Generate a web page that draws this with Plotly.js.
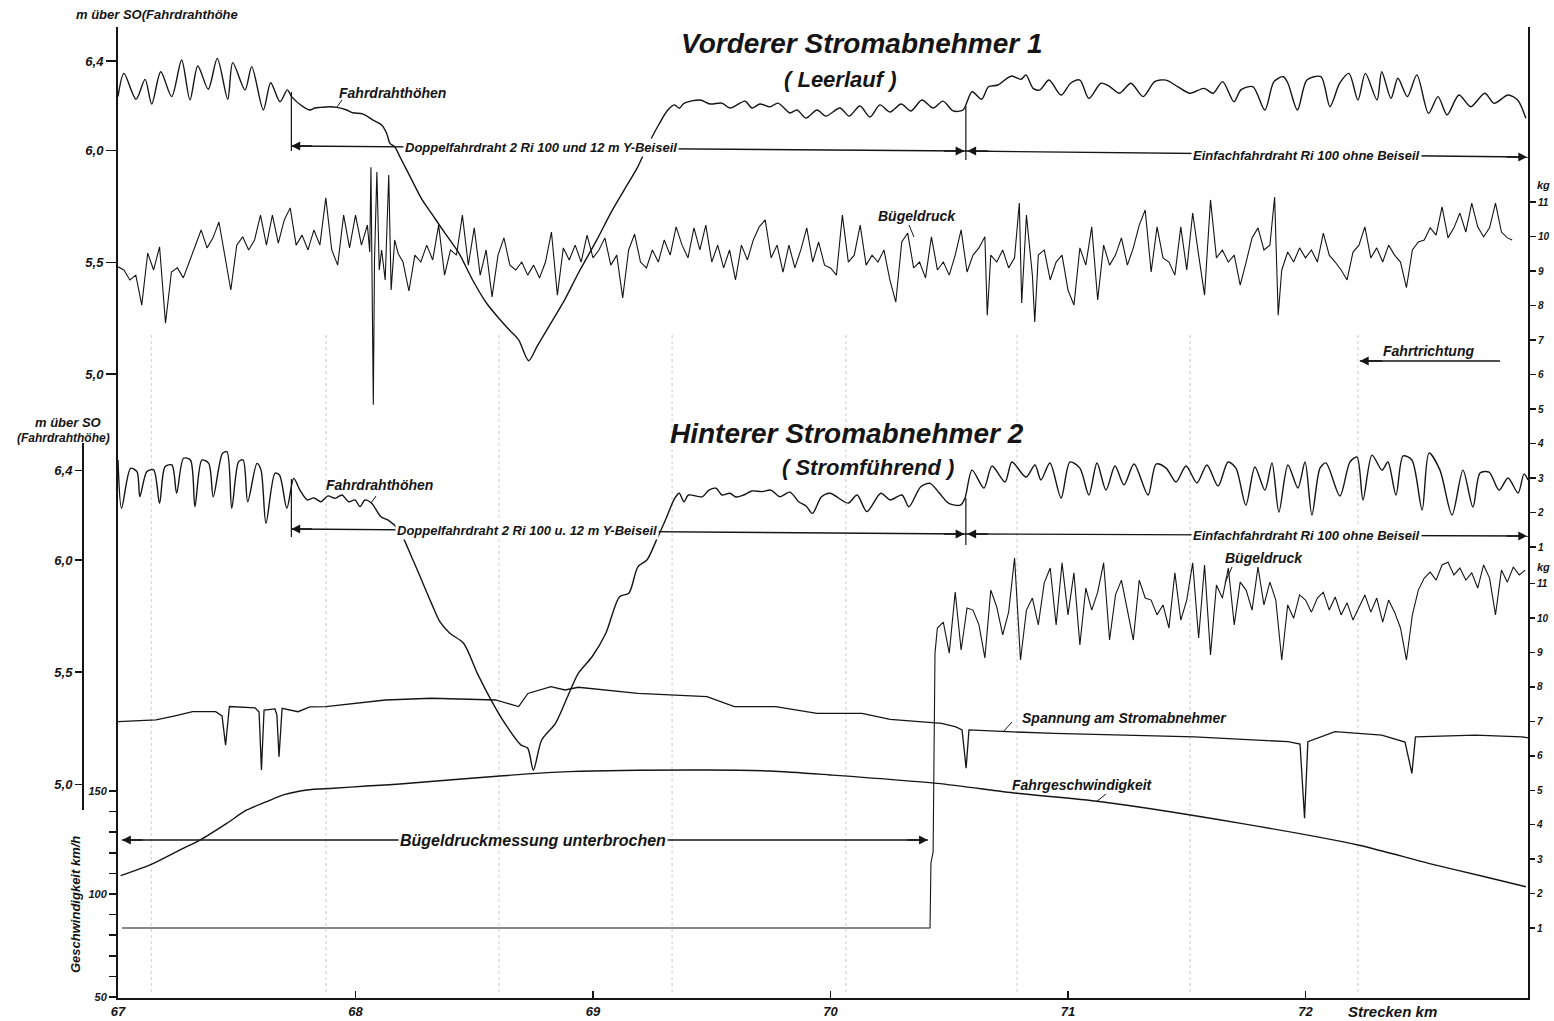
<!DOCTYPE html>
<html><head><meta charset="utf-8">
<script src="https://cdn.plot.ly/plotly-3.0.1.min.js"></script>
<style>html,body{margin:0;padding:0;background:#fff}#chart{width:1554px;height:1021px}</style>
</head><body><div id="chart"></div>
<script>
// ---------------- DATA (read from the recording) ----------------
// x = Strecken-km, values in the unit of each scale
const kmTicks = [67, 68, 69, 70, 71, 72];
const kmTickText = ['67', '68', '69', '70', '71', '72'];
const heightTicks = [5.0, 5.5, 6.0, 6.4];
const heightTickText = ['5,0', '5,5', '6,0', '6,4'];
const speedTicks = [50, 60, 70, 80, 90, 100, 110, 120, 130, 140, 150];
const speedTickText = ['50', '', '', '', '', '100', '', '', '', '', '150'];
const kgTicks = [1, 2, 3, 4, 5, 6, 7, 8, 9, 10, 11];
const kgTickText = ['1', '2', '3', '4', '5', '6', '7', '8', '9', '10', '11'];

// section boundaries (km)
const doppelStart = 67.73, einfachStart = 70.57, trackEnd = 72.937;
const bdOffStart = 67.017, bdOffEnd = 70.41;
const fahrtTip = 72.229, fahrtTail = 72.819;

// Vorderer Stromabnehmer 1 – Fahrdrahthöhe [m über SO]
const fh1 = [[67.000,6.241],[67.025,6.345],[67.076,6.229],[67.114,6.318],[67.142,6.208],[67.180,6.352],[67.226,6.241],[67.268,6.405],[67.303,6.226],[67.336,6.378],
[67.380,6.274],[67.418,6.412],[67.462,6.229],[67.483,6.393],[67.535,6.271],[67.563,6.375],[67.612,6.181],[67.643,6.303],[67.682,6.218],[67.713,6.271],
[67.731,6.241],[67.779,6.196],[67.808,6.181],[67.829,6.190],[67.851,6.193],[67.893,6.196],[67.921,6.193],[67.963,6.181],[67.989,6.169],[68.032,6.163],
[68.074,6.136],[68.110,6.114],[68.131,6.077],[68.145,6.032],[68.165,6.017],[68.187,5.972],[68.223,5.898],[68.281,5.779],[68.320,5.719],[68.358,5.659],
[68.397,5.600],[68.436,5.540],[68.493,5.421],[68.552,5.317],[68.610,5.242],[68.648,5.197],[68.687,5.153],[68.729,5.060],[68.764,5.123],[68.822,5.227],
[68.880,5.331],[68.938,5.451],[69.016,5.600],[69.074,5.719],[69.131,5.823],[69.189,5.928],[69.228,6.017],[69.276,6.114],[69.315,6.181],[69.344,6.204],
[69.363,6.189],[69.383,6.211],[69.451,6.226],[69.493,6.208],[69.543,6.212],[69.577,6.190],[69.640,6.221],[69.669,6.190],[69.703,6.208],[69.745,6.195],
[69.779,6.212],[69.829,6.168],[69.859,6.181],[69.897,6.145],[69.943,6.181],[69.981,6.154],[70.040,6.190],[70.078,6.154],[70.124,6.199],[70.166,6.150],
[70.208,6.204],[70.251,6.172],[70.297,6.208],[70.339,6.177],[70.385,6.226],[70.432,6.190],[70.474,6.221],[70.516,6.177],[70.558,6.181],[70.596,6.263],
[70.636,6.229],[70.665,6.285],[70.705,6.293],[70.743,6.323],[70.764,6.333],[70.802,6.318],[70.823,6.338],[70.853,6.278],[70.882,6.271],[70.920,6.315],
[70.971,6.248],[71.011,6.301],[71.050,6.315],[71.088,6.233],[71.139,6.301],[71.177,6.285],[71.217,6.256],[71.265,6.301],[71.316,6.241],[71.365,6.308],
[71.413,6.315],[71.463,6.285],[71.514,6.256],[71.573,6.278],[71.611,6.256],[71.651,6.308],[71.699,6.218],[71.728,6.271],[71.779,6.285],[71.829,6.181],
[71.867,6.308],[71.907,6.330],[71.926,6.301],[71.966,6.181],[72.006,6.315],[72.065,6.330],[72.103,6.196],[72.144,6.301],[72.183,6.345],[72.221,6.226],
[72.252,6.345],[72.301,6.226],[72.321,6.352],[72.360,6.233],[72.389,6.323],[72.429,6.241],[72.469,6.338],[72.518,6.166],[72.558,6.241],[72.596,6.159],
[72.646,6.248],[72.696,6.196],[72.755,6.256],[72.794,6.211],[72.853,6.248],[72.893,6.226],[72.928,6.144]];

// Vorderer Stromabnehmer 1 – Bügeldruck [kg]
const bd1 = [[67.000,9.12],[67.025,9.03],[67.050,8.74],[67.075,8.88],[67.100,8.01],[67.125,9.52],[67.150,9.03],[67.175,9.70],[67.200,7.49],[67.225,8.97],
[67.250,9.09],[67.275,8.80],[67.300,9.26],[67.325,9.75],[67.350,10.19],[67.375,9.67],[67.400,9.96],[67.425,10.42],[67.450,9.46],[67.475,8.45],
[67.500,9.75],[67.525,9.99],[67.550,9.61],[67.575,9.90],[67.600,10.62],[67.625,9.75],[67.650,10.62],[67.675,9.81],[67.700,10.48],[67.725,10.83],
[67.750,9.75],[67.775,10.04],[67.800,9.61],[67.825,10.19],[67.850,9.75],[67.875,11.12],[67.900,9.61],[67.925,9.17],[67.950,10.62],[67.975,9.67],
[68.000,10.62],[68.025,9.75],[68.050,10.33],[68.060,9.55],[68.065,12.01],[68.070,8.16],[68.075,5.12],[68.080,9.32],[68.090,11.87],[68.100,9.03],
[68.110,9.61],[68.125,8.74],[68.140,11.78],[68.150,8.45],[68.165,9.90],[68.180,9.50],[68.200,9.26],[68.225,8.42],[68.250,9.46],[68.275,9.26],
[68.300,9.75],[68.325,9.32],[68.350,10.33],[68.375,8.88],[68.400,9.61],[68.425,9.46],[68.450,10.62],[68.475,9.17],[68.500,10.25],[68.525,8.88],
[68.550,9.61],[68.575,8.25],[68.600,9.46],[68.625,9.96],[68.650,9.17],[68.675,9.03],[68.700,9.26],[68.725,8.88],[68.750,9.17],[68.775,8.80],
[68.800,9.26],[68.825,10.13],[68.850,8.30],[68.875,9.67],[68.900,9.32],[68.925,9.75],[68.950,9.26],[68.975,10.04],[69.000,9.38],[69.025,9.61],
[69.050,9.96],[69.075,9.17],[69.100,9.46],[69.125,8.22],[69.150,9.61],[69.175,10.07],[69.200,9.26],[69.225,9.09],[69.250,9.61],[69.275,9.26],
[69.300,9.90],[69.325,9.46],[69.350,10.28],[69.375,9.75],[69.400,9.38],[69.425,10.25],[69.450,9.61],[69.475,10.33],[69.500,9.26],[69.525,9.75],
[69.550,9.09],[69.575,9.61],[69.600,8.74],[69.625,9.75],[69.650,9.32],[69.675,9.90],[69.700,10.28],[69.725,10.48],[69.750,9.38],[69.775,9.75],
[69.800,8.97],[69.825,9.75],[69.850,9.09],[69.875,9.61],[69.900,10.25],[69.925,9.26],[69.950,9.84],[69.975,9.17],[70.000,9.09],[70.025,8.88],
[70.050,10.62],[70.075,9.26],[70.100,9.46],[70.125,10.33],[70.150,9.17],[70.175,9.46],[70.200,9.26],[70.225,9.61],[70.250,8.74],[70.275,8.10],
[70.300,9.84],[70.325,10.10],[70.350,9.09],[70.375,9.26],[70.400,8.80],[70.425,9.99],[70.450,9.03],[70.475,9.26],[70.500,8.88],[70.525,9.46],
[70.550,10.19],[70.575,8.97],[70.600,9.46],[70.625,9.67],[70.650,9.99],[70.660,7.72],[70.675,9.46],[70.700,9.26],[70.725,9.61],[70.750,9.09],
[70.775,9.38],[70.795,10.97],[70.805,8.07],[70.825,10.62],[70.850,8.88],[70.860,7.52],[70.875,9.46],[70.900,9.61],[70.925,8.74],[70.950,9.26],
[70.975,9.46],[71.000,8.45],[71.025,8.01],[71.050,9.67],[71.075,9.17],[71.100,10.28],[71.125,8.16],[71.150,9.75],[71.175,9.17],[71.200,9.46],
[71.225,9.96],[71.250,9.17],[71.275,9.67],[71.300,10.33],[71.325,10.77],[71.350,8.97],[71.375,10.28],[71.400,9.38],[71.425,9.26],[71.450,8.88],
[71.475,10.28],[71.500,9.03],[71.525,10.68],[71.550,9.46],[71.575,8.30],[71.600,11.06],[71.625,9.38],[71.650,9.61],[71.675,9.26],[71.700,9.46],
[71.725,8.59],[71.750,9.26],[71.775,9.96],[71.800,10.25],[71.825,9.61],[71.850,9.75],[71.870,11.14],[71.885,7.72],[71.900,9.03],[71.925,9.55],
[71.950,9.26],[71.975,9.67],[72.000,9.38],[72.025,9.61],[72.050,9.26],[72.075,10.10],[72.100,9.46],[72.125,9.26],[72.150,9.03],[72.175,8.74],
[72.200,9.55],[72.225,9.75],[72.250,10.28],[72.275,9.38],[72.300,9.67],[72.325,9.26],[72.350,9.75],[72.375,9.46],[72.400,9.26],[72.425,8.52],
[72.450,9.61],[72.475,9.84],[72.500,9.90],[72.525,10.25],[72.550,10.04],[72.575,10.86],[72.600,9.96],[72.625,10.25],[72.650,10.68],[72.675,10.13],
[72.700,10.97],[72.725,10.28],[72.750,9.99],[72.775,10.25],[72.800,10.97],[72.825,10.13],[72.850,9.96],[72.870,9.90]];

// Hinterer Stromabnehmer 2 – Fahrdrahthöhe [m über SO]
const fh2 = [[67.000,6.446],[67.015,6.231],[67.053,6.409],[67.080,6.394],[67.092,6.282],[67.121,6.394],[67.150,6.402],[67.175,6.253],[67.198,6.416],[67.227,6.424],
[67.247,6.298],[67.276,6.454],[67.305,6.446],[67.324,6.238],[67.353,6.446],[67.382,6.431],[67.401,6.282],[67.440,6.476],[67.459,6.483],[67.479,6.231],
[67.508,6.439],[67.527,6.446],[67.546,6.260],[67.585,6.431],[67.602,6.402],[67.623,6.164],[67.661,6.387],[67.680,6.379],[67.711,6.231],[67.740,6.364],
[67.766,6.312],[67.797,6.268],[67.825,6.277],[67.855,6.260],[67.884,6.286],[67.914,6.275],[67.943,6.290],[67.971,6.260],[67.998,6.268],[68.019,6.238],
[68.040,6.268],[68.068,6.253],[68.107,6.193],[68.136,6.179],[68.183,6.134],[68.242,6.000],[68.320,5.807],[68.356,5.724],[68.397,5.674],[68.455,5.629],
[68.513,5.495],[68.571,5.376],[68.629,5.272],[68.696,5.176],[68.725,5.161],[68.749,5.064],[68.784,5.198],[68.842,5.272],[68.899,5.406],[68.938,5.495],
[68.996,5.569],[69.054,5.674],[69.112,5.837],[69.151,5.852],[69.189,5.970],[69.227,6.000],[69.267,6.089],[69.305,6.179],[69.344,6.275],[69.363,6.298],
[69.383,6.260],[69.402,6.290],[69.460,6.282],[69.488,6.312],[69.518,6.320],[69.543,6.290],[69.576,6.298],[69.602,6.281],[69.634,6.290],[69.669,6.308],
[69.712,6.305],[69.749,6.312],[69.787,6.282],[69.829,6.303],[69.866,6.260],[69.897,6.241],[69.924,6.208],[69.962,6.282],[69.998,6.298],[70.074,6.254],
[70.112,6.290],[70.153,6.216],[70.212,6.298],[70.251,6.268],[70.301,6.290],[70.330,6.238],[70.380,6.327],[70.419,6.342],[70.459,6.298],[70.498,6.253],
[70.547,6.245],[70.566,6.275],[70.596,6.401],[70.646,6.321],[70.680,6.419],[70.735,6.348],[70.764,6.437],[70.823,6.370],[70.861,6.424],[70.886,6.357],
[70.924,6.433],[70.971,6.277],[71.008,6.437],[71.050,6.410],[71.088,6.290],[71.122,6.433],[71.160,6.312],[71.198,6.419],[71.236,6.335],[71.278,6.428],
[71.337,6.290],[71.371,6.428],[71.413,6.410],[71.455,6.348],[71.497,6.419],[71.543,6.344],[71.585,6.424],[71.632,6.330],[71.674,6.437],[71.707,6.410],
[71.749,6.245],[71.787,6.415],[71.829,6.312],[71.859,6.433],[71.888,6.214],[71.926,6.424],[71.968,6.321],[71.998,6.437],[72.027,6.201],[72.061,6.410],
[72.086,6.433],[72.145,6.286],[72.187,6.437],[72.217,6.459],[72.242,6.268],[72.280,6.468],[72.322,6.401],[72.347,6.437],[72.381,6.290],[72.411,6.464],
[72.448,6.446],[72.491,6.223],[72.520,6.477],[72.566,6.401],[72.617,6.201],[72.663,6.401],[72.705,6.236],[72.735,6.388],[72.773,6.392],[72.815,6.312],
[72.853,6.366],[72.895,6.299],[72.920,6.384],[72.937,6.357]];

// Hinterer Stromabnehmer 2 – Bügeldruck [kg] (Messung bis km 70,4 unterbrochen)
const bd2 = [[67.017,1.00],[70.419,1.00],[70.423,2.89],[70.432,3.21],[70.440,8.98],[70.450,9.71],[70.475,9.88],[70.500,8.98],[70.525,10.75],[70.550,9.07],
[70.575,10.29],[70.600,10.23],[70.625,9.80],[70.650,8.84],[70.675,10.81],[70.700,10.32],[70.725,9.51],[70.750,10.17],[70.775,11.74],[70.800,8.78],
[70.825,10.23],[70.850,10.58],[70.875,9.80],[70.900,11.02],[70.925,11.45],[70.950,9.80],[70.975,11.60],[71.000,10.09],[71.025,11.31],[71.050,9.22],
[71.075,10.87],[71.100,10.23],[71.125,10.75],[71.150,11.60],[71.175,9.36],[71.200,10.67],[71.225,11.10],[71.250,10.17],[71.275,9.36],[71.300,11.10],
[71.325,10.58],[71.350,10.52],[71.375,10.09],[71.400,10.38],[71.425,9.71],[71.450,11.31],[71.475,9.94],[71.500,10.52],[71.525,11.60],[71.550,9.42],
[71.575,11.54],[71.600,8.93],[71.625,10.96],[71.650,10.58],[71.675,11.45],[71.700,9.80],[71.725,11.04],[71.750,10.81],[71.775,10.23],[71.800,11.48],
[71.825,10.38],[71.850,11.04],[71.875,10.52],[71.900,8.78],[71.925,10.38],[71.950,9.99],[71.975,10.67],[72.000,10.52],[72.025,10.17],[72.050,10.58],
[72.075,10.75],[72.100,10.23],[72.125,10.61],[72.150,10.09],[72.175,10.44],[72.200,9.94],[72.225,10.32],[72.250,10.67],[72.275,10.17],[72.300,10.58],
[72.325,9.88],[72.350,10.52],[72.375,10.17],[72.400,9.71],[72.425,8.78],[72.450,10.09],[72.475,10.81],[72.500,11.16],[72.525,11.33],[72.550,11.10],
[72.575,11.54],[72.600,11.62],[72.625,11.25],[72.650,11.45],[72.675,11.10],[72.700,11.31],[72.725,10.87],[72.750,11.54],[72.775,11.16],[72.800,10.09],
[72.825,11.39],[72.850,11.04],[72.875,11.48],[72.900,11.25],[72.925,11.39]];

// Spannung am Stromabnehmer (relative trace, read on the lower kg scale)
const spannung = [[67.000,6.99],[67.160,7.04],[67.240,7.16],[67.314,7.28],[67.411,7.28],[67.438,7.16],[67.453,6.31],[67.469,7.43],[67.577,7.39],[67.594,7.27],
[67.604,5.59],[67.615,7.33],[67.661,7.36],[67.669,7.18],[67.678,5.97],[67.691,7.38],[67.758,7.28],[67.808,7.42],[67.875,7.43],[68.126,7.62],
[68.320,7.67],[68.590,7.62],[68.651,7.50],[68.687,7.43],[68.726,7.81],[68.823,8.01],[68.882,7.91],[68.938,7.99],[69.189,7.81],[69.480,7.72],
[69.595,7.43],[69.769,7.43],[69.943,7.23],[70.133,7.23],[70.251,7.06],[70.468,6.94],[70.528,6.84],[70.554,6.75],[70.571,5.64],[70.583,6.75],
[70.743,6.70],[70.941,6.65],[71.533,6.55],[71.926,6.41],[71.977,6.34],[71.996,4.19],[72.010,6.41],[72.124,6.70],[72.321,6.60],[72.419,6.40],
[72.448,5.49],[72.463,6.55],[72.715,6.60],[72.912,6.55],[72.937,6.52]];

// Fahrgeschwindigkeit [km/h]
const speed = [[67.011,108.9],[67.135,114.1],[67.261,121.4],[67.345,126.2],[67.458,134.3],[67.542,140.8],[67.626,144.8],[67.696,148.1],[67.795,150.5],[67.907,151.3],
[68.047,152.4],[68.187,153.4],[68.608,157.3],[68.899,159.4],[69.480,160.2],[69.745,159.7],[69.998,157.8],[70.448,153.7],[70.784,148.9],[71.139,144.8],
[71.728,134.3],[72.221,123.8],[72.518,114.9],[72.755,108.4],[72.928,103.5]];

// ---------------- LAYOUT ----------------
const W = 1554, H = 1021;
const PL = 40, PR = 1528, PT = 27, PB = 998;   // plot area in page pixels
const X0 = 118, PX_PER_KM = 237.5;             // km 67 at x=118
const pxX = x => (x - PL) / (PR - PL);
const pxY = y => (PB - y) / (PB - PT);
const yr = (vRef, pRef, perPx) => [vRef + (pRef - PB) * perPx, vRef + (pRef - PT) * perPx];
const xRange = [kmTicks[0], kmTicks[0] + (PR - X0) / PX_PER_KM];

const F = '"Liberation Sans", Arial, sans-serif';
const ink = '#151515';
const tf = s => ({family: F, size: s, color: ink, weight: 700, style: 'italic'});
const baseY = {showgrid: false, zeroline: false, ticks: 'outside', tickcolor: ink, linecolor: ink, tickwidth: 1.5, fixedrange: true};

const X = a => a.map(p => p[0]), V = a => a.map(p => p[1]);
const tr = (d, ax, w, shape) => ({x: X(d), y: V(d), yaxis: ax, type: 'scatter', mode: 'lines',
  line: {color: ink, width: w, shape: shape || 'linear', smoothing: 0.8}, hoverinfo: 'skip'});

const traces = [
  tr(fh1, 'y', 1.4, 'spline'),
  tr(bd1, 'y4', 1.1),
  tr(fh2, 'y2', 1.4, 'spline'),
  tr(bd2, 'y5', 1.1),
  tr(spannung, 'y5', 1.3),
  tr(speed, 'y3', 1.4, 'spline')
];

const L = (x0, y0, x1, y1, w, xref, extra) => Object.assign({type: 'line', xref: xref || 'x', yref: 'paper',
  x0: xref === 'paper' ? pxX(x0) : x0, x1: xref === 'paper' ? pxX(x1) : x1, y0: pxY(y0), y1: pxY(y1),
  line: {color: ink, width: w || 1.3}}, extra || {});

const dashKm = [67.14, 67.876, 68.604, 69.333, 70.065, 70.785, 71.514, 72.221];
const shapes = [
  // Doppel / Einfach section markers, front pantograph
  L(doppelStart, 146, einfachStart, 151),
  L(einfachStart, 151, trackEnd, 157),
  L(doppelStart, 92, doppelStart, 151, 1.2),
  L(einfachStart, 106, einfachStart, 160, 1.2),
  // rear pantograph
  L(doppelStart, 529, einfachStart, 534),
  L(einfachStart, 534, trackEnd, 536),
  L(doppelStart, 479, doppelStart, 537, 1.2),
  L(einfachStart, 498, einfachStart, 545, 1.2),
  // Bügeldruckmessung unterbrochen
  L(bdOffStart, 840, bdOffEnd, 840),
  // Fahrtrichtung
  L(fahrtTip, 361, fahrtTail, 361, 1.5),
  // second left axis (height, rear)
  L(83, 810, 83, 443, 2, 'paper'),
  // leader lines
  L(342, 100, 337, 107, 1, 'paper'),
  L(909, 225, 914, 237, 1, 'paper'),
  L(376, 496, 371, 503, 1, 'paper'),
  L(1232, 567, 1225, 583, 1, 'paper'),
  L(1012, 722, 1003, 732, 1, 'paper'),
  L(1106, 794, 1096, 802, 1, 'paper')
].concat(dashKm.map(k => L(k, 335, k, 992, 1, 'x', {line: {color: 'rgba(0,0,0,0.2)', width: 1, dash: 'dot'}})));

const A = (text, x, y, size, extra) => Object.assign({text, xref: 'paper', yref: 'paper', x: pxX(x), y: pxY(y),
  showarrow: false, xanchor: 'center', yanchor: 'middle', font: tf(size)}, extra || {});
const bg = {bgcolor: '#fff', borderpad: 1};
const arrow = (km, y, ax) => ({x: km, xref: 'x', y: pxY(y), yref: 'paper', text: '', showarrow: true,
  ax: ax, ay: 0, arrowhead: 2, arrowsize: 1.1, arrowwidth: 1.6, arrowcolor: ink});

const annotations = [
  A('m über SO(Fahrdrahthöhe', 157, 15, 13),
  A('Vorderer Stromabnehmer 1', 862, 44, 28),
  A('( Leerlauf )', 840, 80, 22),
  A('Fahrdrahthöhen', 392, 93, 14),
  A('Doppelfahrdraht 2 Ri 100 und 12 m Y-Beiseil', 541, 147, 13, bg),
  A('Einfachfahrdraht Ri 100 ohne Beiseil', 1306, 155, 13, bg),
  A('Bügeldruck', 917, 216, 14),
  A('Fahrtrichtung', 1428, 351, 14),
  A('m über SO', 68, 422, 13),
  A('(Fahrdrahthöhe)', 63, 438, 12),
  A('Hinterer Stromabnehmer 2', 847, 434, 28),
  A('( Stromführend )', 868, 467, 22),
  A('Fahrdrahthöhen', 379, 485, 14),
  A('Doppelfahrdraht 2 Ri 100 u. 12 m Y-Beiseil', 527, 530, 13, bg),
  A('Einfachfahrdraht Ri 100 ohne Beiseil', 1306, 535, 13, bg),
  A('Bügeldruck', 1264, 558, 14),
  A('Spannung am Stromabnehmer', 1124, 718, 14),
  A('Fahrgeschwindigkeit', 1082, 785, 14),
  A('Bügeldruckmessung unterbrochen', 533, 840, 16, bg),
  A('Geschwindigkeit km/h', 75, 905, 13, {textangle: -90}),
  A('Strecken km', 1392, 1011, 15),
  A('kg', 1535, 185, 11, {xanchor: 'left'}),
  A('kg', 1535, 567, 11, {xanchor: 'left'}),
  arrow(doppelStart, 146, 22), arrow(einfachStart - 0.006, 151, -22),
  arrow(einfachStart + 0.006, 151, 22), arrow(trackEnd - 0.004, 157, -22),
  arrow(doppelStart, 529, 22), arrow(einfachStart - 0.006, 534, -22),
  arrow(einfachStart + 0.006, 534, 22), arrow(trackEnd - 0.004, 536, -22),
  arrow(bdOffStart, 840, 22), arrow(bdOffEnd, 840, -22),
  arrow(fahrtTip, 361, 24)
];

const layout = {
  width: W, height: H, margin: {l: PL, r: W - PR, t: PT, b: H - PB},
  paper_bgcolor: '#fff', plot_bgcolor: 'rgba(0,0,0,0)', showlegend: false, hovermode: false,
  xaxis: {domain: [pxX(X0), 1], range: xRange, tickvals: kmTicks, ticktext: kmTickText, ticks: 'inside', ticklen: 7,
    tickwidth: 1.5, tickcolor: ink, showline: true, linewidth: 2, linecolor: ink, showgrid: false, zeroline: false,
    tickfont: tf(13), fixedrange: true, anchor: 'y'},
  yaxis: Object.assign({}, baseY, {range: yr(5.725, 212, 0.004472), tickvals: heightTicks, ticktext: heightTickText,
    ticklen: 10, showline: true, linewidth: 2, tickfont: tf(13)}),
  yaxis2: Object.assign({}, baseY, {overlaying: 'y', anchor: 'free', position: pxX(83), range: yr(5.725, 621.75, 0.004458),
    tickvals: heightTicks, ticktext: heightTickText, ticklen: 8, showline: false, tickfont: tf(13)}),
  yaxis3: Object.assign({}, baseY, {overlaying: 'y', anchor: 'free', position: pxX(X0), range: yr(150, 791, 1 / 2.06),
    tickvals: speedTicks, ticktext: speedTickText, ticklen: 9, showline: false, tickfont: tf(11)}),
  yaxis4: Object.assign({}, baseY, {overlaying: 'y', side: 'right', anchor: 'x', range: yr(0, 581.5, 1 / 34.5),
    tickvals: kgTicks, ticktext: kgTickText, ticklen: 6, showline: true, linewidth: 2, tickfont: tf(10)}),
  yaxis5: Object.assign({}, baseY, {overlaying: 'y', side: 'right', anchor: 'x', range: yr(0, 962.5, 1 / 34.45),
    tickvals: kgTicks, ticktext: kgTickText, ticklen: 6, showline: false, tickfont: tf(10)}),
  shapes, annotations
};

Plotly.newPlot('chart', traces, layout, {staticPlot: true, displayModeBar: false});
</script></body></html>
